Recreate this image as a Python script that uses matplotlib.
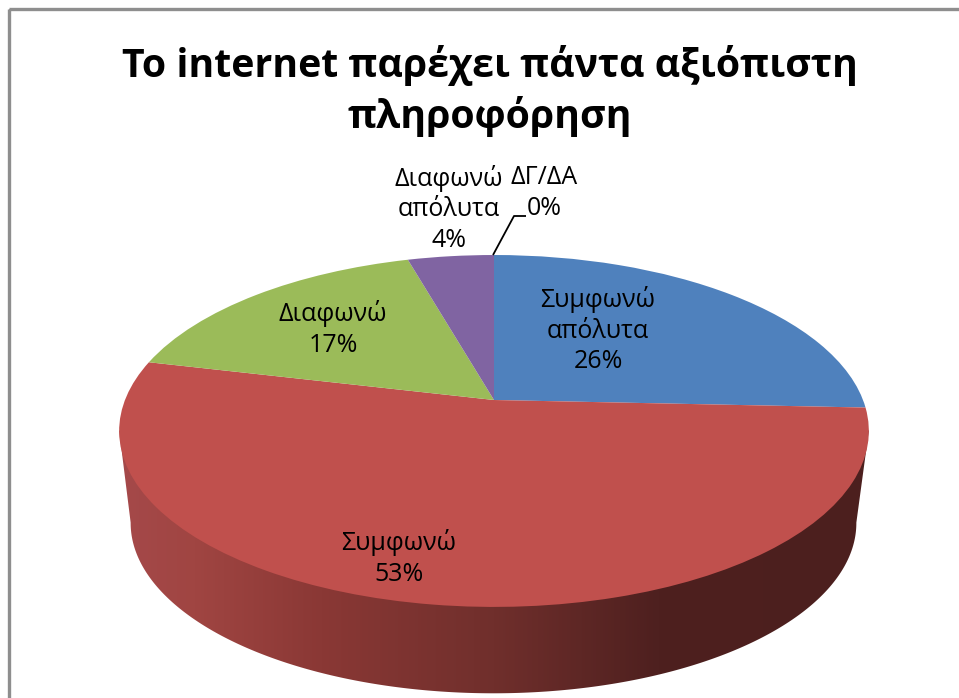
import numpy as np
import matplotlib
matplotlib.use("Agg")
import matplotlib.pyplot as plt
from matplotlib.transforms import Transform
from matplotlib.path import Path
from matplotlib.patches import PathPatch, Rectangle
from matplotlib.colors import LinearSegmentedColormap

plt.rcParams['font.family'] = ['Open Sans', 'DejaVu Sans']

TITLE = "Το internet παρέχει πάντα αξιόπιστη\nπληροφόρηση"
categories = ["Συμφωνώ\nαπόλυτα", "Συμφωνώ", "Διαφωνώ", "Διαφωνώ\nαπόλυτα", "ΔΓ/ΔΑ"]
values = [25.7, 53.0, 16.9, 4.4, 0.0]
colors = ["#4F81BD", "#C0504D", "#9BBB59", "#8064A2", "#4BACC6"]


class Tilt(Transform):
    """Perspective view of the flat unit pie, giving pixel coordinates."""
    input_dims = output_dims = 2
    is_separable = False
    has_inverse = False

    def __init__(self, cx=494.0, cy=400.0, b=369.0, a=170.5, k=0.176, s=1.0):
        super().__init__()
        self.p = (cx, cy, b, a, k, s)

    def transform_non_affine(self, v):
        cx, cy, b, a, k, s = self.p
        v = np.asarray(v, float)
        d = 1 + k * v[:, 1]
        return np.column_stack((cx + s * b * v[:, 0] / d, cy - s * a * v[:, 1] / d))


fig = plt.figure(figsize=(9.59, 6.98), dpi=100, facecolor="white")
ax = fig.add_axes([0, 0, 1, 1])

top = Tilt()
low = Tilt(cx=493.5, cy=493.0, s=0.968)

wedges, _ = ax.pie(values, colors=colors, startangle=90, counterclock=False, radius=1.0)
for w in wedges:
    w.set_transform(top + ax.transData)
    w.set_zorder(3)
    w.set_linewidth(0)

ax.set_aspect("auto")
ax.set_xlim(0, 959)
ax.set_ylim(698, 0)
ax.axis("off")

# chart frame
ax.add_patch(Rectangle((8.5, 9), 970, 720, fill=False, ec="#8E8E8E", lw=2.4, zorder=1))

# side wall
t = np.linspace(0, 2 * np.pi, 721)
circle = np.column_stack((np.cos(t), np.sin(t)))
tp, lp = top.transform(circle), low.transform(circle)
il, ir = lp[:, 0].argmin(), lp[:, 0].argmax()
lower = lp[np.arange(il, ir + 1)]
outline = np.vstack((tp[tp[:, 0].argmin()], lower, tp[tp[:, 0].argmax()], tp[tp[:, 0].argmax()]))
clip = PathPatch(Path(outline, closed=True), transform=ax.transData, fc="none", ec="none")
ax.add_patch(clip)
side_cmap = LinearSegmentedColormap.from_list("side", [
    (0.00, "#A5494A"), (0.10, "#A04542"), (0.27, "#8A3835"),
    (0.50, "#702F2C"), (0.72, "#4E201F"), (1.00, "#4C1F1E")])
img = ax.imshow(np.linspace(0, 1, 512)[None, :], cmap=side_cmap, extent=(119, 869, 698, 400),
                aspect="auto", zorder=2, interpolation="bilinear")
img.set_clip_path(clip)
ax.set_xlim(0, 959)
ax.set_ylim(698, 0)

# title
ax.text(490, 91, TITLE, ha="center", va="center", fontsize=28.3, fontweight="bold",
        color="black", linespacing=1.3, zorder=5)

# data labels
def lab(i):
    return f"{categories[i]}\n{round(values[i])}%"

label_kw = dict(ha="center", va="center", fontsize=18, color="black", linespacing=1.28, zorder=5)
ax.text(598, 330, lab(0), **label_kw)
ax.text(399, 558, lab(1), **label_kw)
ax.text(333, 329, lab(2), **label_kw)
ax.text(449, 209, lab(3), **label_kw)
ax.text(544, 193, lab(4), **label_kw)

# leader line
ax.plot([493, 514, 526], [255, 216, 216], color="black", lw=1.3, zorder=4, solid_capstyle="butt")

fig.savefig("out.png", dpi=100)
